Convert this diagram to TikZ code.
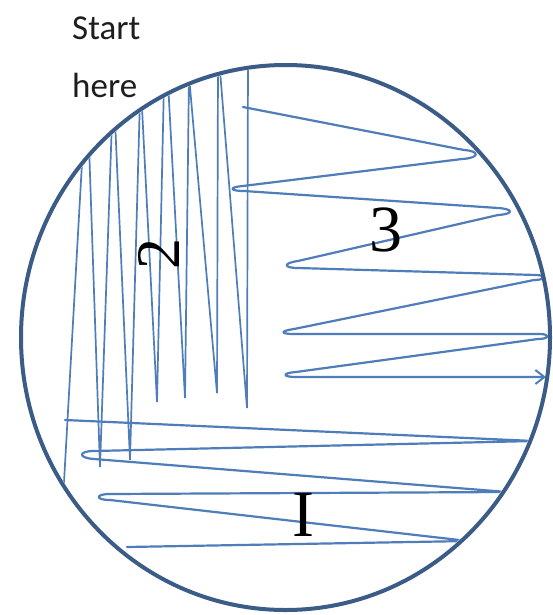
\documentclass[tikz,border=0pt]{standalone}
\usepackage{fontspec}
\setmainfont{Liberation Serif}
\newfontfamily\labelfont{Carlito}
\usetikzlibrary{arrows.meta}
\definecolor{plate}{RGB}{58,92,135}
\definecolor{streak}{RGB}{78,125,185}
\definecolor{inktext}{RGB}{30,30,30}
\begin{document}
\begin{tikzpicture}[x=1pt,y=-1pt,
  streakline/.style={draw=streak, line width=2.2pt, line join=round, line cap=round},
  thinstreak/.style={draw=streak, line width=1.7pt, line join=miter, line cap=round},
  rim/.style={draw=plate, line width=4pt},
  digit/.style={font=\fontsize{66}{66}\selectfont, inner sep=0pt, text=black},
  note/.style={font=\labelfont\fontsize{35}{35}\selectfont, inner sep=0pt, anchor=base west, text=inktext}]
\useasboundingbox (0,0) rectangle (553,615);
\fill[white] (0,0) rectangle (553,615);
\coordinate (c) at (285.5,337.5);

% labels
\node[note] (start) at (72,40) {Start};
\node[note] (here) at (72,98) {here};

% sections 1 and 2, clipped to the plate
\begin{scope}
  \clip (c) ellipse [x radius=262pt, y radius=270pt];
  % section 2: vertical zigzag
  \draw[thinstreak] (63,500) -- (83,145) -- (89,145) -- (100,467)
    -- (112,120) -- (115,120) -- (130,460)
    -- (140,98) -- (141.5,98) -- (157,402)
    -- (164,82) -- (168,82) -- (185,398)
    -- (189,76) -- (217,393)
    -- (218,64) -- (219.5,64) -- (247,408) -- (248,60);
  % section 1: bottom horizontal zigzag
  \draw[streakline] (65,420) -- (534,441) -- (94,451)
    .. controls (78,451) and (78,458) .. (94,459)
    -- (507,492) -- (110,494)
    .. controls (95,494) and (95,500) .. (110,500)
    -- (468,541) -- (127,547);
\end{scope}

% section 3: right horizontal zigzag with arrow
\draw[streakline, -{Straight Barb[length=9pt,width=14pt,line width=2pt]}]
  (243,107) -- (464,150) .. controls (480,151) and (480,158) .. (462,159)
  -- (243,186) .. controls (229,187) and (229,191) .. (244,191)
  -- (498,208) .. controls (514,209) and (514,214) .. (498,215)
  -- (298,261) .. controls (283,263) and (283,268) .. (298,268)
  -- (536,275) .. controls (546,275) and (546,280) .. (534,280)
  -- (294,329) .. controls (280,331) and (280,334) .. (294,334)
  -- (540,334) .. controls (550,334) and (550,339) .. (538,339)
  -- (296,372) .. controls (282,373) and (282,377) .. (296,377)
  -- (546,377);

% digits
\node[digit] (one) at (303,515) {I};
\node[digit, font=\fontsize{62}{62}\selectfont, rotate=90] (two) at (159,254) {2};
\node[digit] (three) at (386,230) {3};

% plate rim
\draw[rim] (c) ellipse [x radius=264.5pt, y radius=272.5pt];
\end{tikzpicture}
\end{document}
